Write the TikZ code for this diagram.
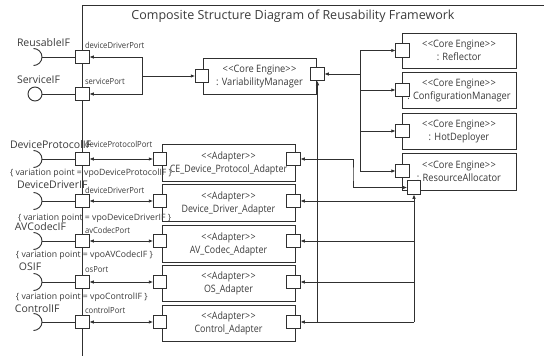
\documentclass[tikz,border=0pt]{standalone}
\usepackage{fontspec}
\setmainfont{Open Sans}
\newfontfamily\narrowsans[FakeStretch=0.91]{Open Sans}
\newfontfamily\tightsans[FakeStretch=0.87]{Open Sans}
\usetikzlibrary{arrows.meta}
\definecolor{ink}{HTML}{303030}
\definecolor{txt}{HTML}{3A3A3A}
\newcommand\stereo[1]{<\kern0.4pt<#1>\kern0.4pt>}
\begin{document}
\begin{tikzpicture}[x=1pt,y=-1pt,
  every node/.style={text=txt, inner sep=0pt, outer sep=0pt},
  wire/.style={draw=ink, line width=0.9pt},
  arr/.style={wire, -{Latex[length=4.5pt,width=3.5pt]}},
  dbl/.style={wire, {Latex[length=4.5pt,width=3.5pt]}-{Latex[length=4.5pt,width=3.5pt]}},
  port/.style={draw=ink, fill=white, line width=0.9pt, minimum width=13.5pt, minimum height=13.5pt},
  engine/.style={draw=ink, line width=0.9pt, minimum width=114pt, minimum height=36pt,
    align=center, font=\narrowsans\fontsize{10.2}{13}\selectfont},
  adapter/.style={draw=ink, line width=0.9pt, minimum width=133pt, minimum height=36.5pt,
    align=center, font=\tightsans\fontsize{10.2}{13}\selectfont},
  iflabel/.style={anchor=west, font=\fontsize{10.5}{12}\selectfont},
  portlabel/.style={anchor=west, font=\narrowsans\fontsize{8.4}{10}\selectfont},
  vplabel/.style={anchor=west, font=\fontsize{8.7}{10}\selectfont},
  ball/.style={draw=ink, line width=0.9pt, circle, minimum size=14pt, fill=white}
]
\useasboundingbox (0,0) rectangle (544,356);

% enclosing frame and title
\coordinate (frameTL) at (82,5);
\draw[wire] (82,356) -- (frameTL) -- (544,5);
\node[font=\fontsize{12.5}{14}\selectfont] (title) at (293,16) {Composite Structure Diagram of Reusability Framework};

% core engine parts
\node[engine, minimum width=113pt] (vm) at (259.5,76) {\stereo{Core Engine}\\: VariabilityManager};
\node[engine, minimum height=35pt] (rf) at (459,50.5) {\stereo{Core Engine}\\: Reflector};
\node[engine] (cm) at (459,90) {\stereo{Core Engine}\\: ConfigurationManager};
\node[engine] (hd) at (459,131) {\stereo{Core Engine}\\: HotDeployer};
\node[engine, minimum height=37pt] (ra) at (459,171.5) {\stereo{Core Engine}\\: ResourceAllocator};

% adapter parts
\node[adapter] (ce) at (228.5,163) {\stereo{Adapter}\\CE\_Device\_Protocol\_Adapter};
\node[adapter] (dd) at (228.5,203) {\stereo{Adapter}\\Device\_Driver\_Adapter};
\node[adapter] (av) at (228.5,244) {\stereo{Adapter}\\AV\_Codec\_Adapter};
\node[adapter] (os) at (228.5,283.5) {\stereo{Adapter}\\OS\_Adapter};
\node[adapter] (ct) at (228.5,323.5) {\stereo{Adapter}\\Control\_Adapter};

% junction points of the wiring
\coordinate (jL) at (142,76);
\coordinate (jR) at (360,74);
\coordinate (jC) at (353,175);

% ports on the frame
\node[port] (pRe) at (82.5,57) {};
\node[port] (pSv) at (82.5,94) {};
\node[port] (pDP) at (82.5,159) {};
\node[port] (pDD) at (82.5,201) {};
\node[port] (pAV) at (82.5,241) {};
\node[port] (pOS) at (82.5,282) {};
\node[port] (pCt) at (82.5,322) {};

% ports on the parts
\node[port] (vmL) at (202,76) {};
\node[port] (vmR) at (317.5,74) {};
\node[port] (rfP) at (402.5,50.5) {};
\node[port] (cmP) at (402.5,90) {};
\node[port] (hdP) at (402.5,131) {};
\node[port] (raP) at (402.5,171) {};
\node[port] (raB) at (414,187.5) {};
\node[port] (aCeL) at (160,159) {};
\node[port] (aDdL) at (160,201) {};
\node[port] (aAvL) at (160,241) {};
\node[port] (aOsL) at (160,282) {};
\node[port] (aCtL) at (160,322) {};
\node[port] (aCeR) at (293.5,159) {};
\node[port] (aDdR) at (293.5,201) {};
\node[port] (aAvR) at (293.5,241) {};
\node[port] (aOsR) at (293.5,282) {};
\node[port] (aCtR) at (293.5,322) {};

% provided / required interfaces
\coordinate (ifRe) at (42,57);
\node[ball] (ifSv) at (35,94) {};
\coordinate (ifDP) at (42,159);
\coordinate (ifDD) at (42,201);
\coordinate (ifAV) at (42,241);
\coordinate (ifOS) at (42,282);
\coordinate (ifCt) at (42,322);
\foreach \s in {ifRe,ifDP,ifDD,ifAV,ifOS,ifCt}{
  \draw[wire] ([shift={(-8.5,-8.5)}]\s) arc[start angle=-90, end angle=90, radius=8.5];
}
\draw[wire] (ifRe) -- (pRe);
\draw[wire] (ifSv) -- (pSv);
\draw[wire] (ifDP) -- (pDP);
\draw[wire] (ifDD) -- (pDD);
\draw[wire] (ifAV) -- (pAV);
\draw[wire] (ifOS) -- (pOS);
\draw[wire] (ifCt) -- (pCt);

% delegation from the outer ports
\draw[arr] (jL) |- (pRe);
\draw[arr] (jL) |- (pSv);
\draw[arr] (jL) -- (vmL);
\draw[dbl] (pDP) -- (aCeL);
\draw[dbl] (pDD) -- (aDdL);
\draw[dbl] (pAV) -- (aAvL);
\draw[dbl] (pOS) -- (aOsL);
\draw[dbl] (pCt) -- (aCtL);

% core engine bus
\draw[arr] (jR) -- (vmR);
\draw[arr] (jR) |- (rfP);
\draw[arr] (jR) |- (cmP);
\draw[arr] (jR) |- (hdP);
\draw[arr] (jR) |- (raP);

% adapters to the variability manager
\draw[arr] (vmR |- aCtR) -- (vmR);

% adapters to the resource allocator
\draw[dbl] (aCeR) -| (jC) |- (raB);
\draw[arr] (raB |- aCtR) -- (raB);
\draw[arr] (raB |- aDdR) -- (aDdR);
\draw[arr] (raB |- aAvR) -- (aAvR);
\draw[arr] (raB |- aOsR) -- (aOsR);
\draw[arr] (raB |- aCtR) -- (aCtR);

% labels
\node[iflabel] (lRe) at (17,43) {ReusableIF};
\node[iflabel] (lSv) at (17,80) {ServiceIF};
\node[iflabel] (lDP) at (10,145) {DeviceProtocolIF};
\node[iflabel] (lDD) at (17,185) {DeviceDriverIF};
\node[iflabel] (lAV) at (15,227) {AVCodecIF};
\node[iflabel] (lOS) at (19,267) {OSIF};
\node[iflabel] (lCt) at (15,309) {ControlIF};

\node[portlabel] (nRe) at (85,45) {deviceDriverPort};
\node[portlabel] (nSv) at (85,81) {servicePort};
\node[portlabel] (nDP) at (85,144) {deviceProtocolPort};
\node[portlabel] (nDD) at (85,190) {deviceDriverPort};
\node[portlabel] (nAV) at (85,230) {avCodecPort};
\node[portlabel] (nOS) at (85,270) {osPort};
\node[portlabel] (nCt) at (85,310) {controlPort};

\node[vplabel] (vDP) at (10,173) {\{ variation point = vpoDeviceProtocolIF \}};
\node[vplabel] (vDD) at (18,218) {\{ variation point = vpoDeviceDriverIF \}};
\node[vplabel] (vAV) at (16,255) {\{ variation point = vpoAVCodecIF \}};
\node[vplabel] (vOS) at (16,297) {\{ variation point = vpoControlIF \}};
\end{tikzpicture}
\end{document}
